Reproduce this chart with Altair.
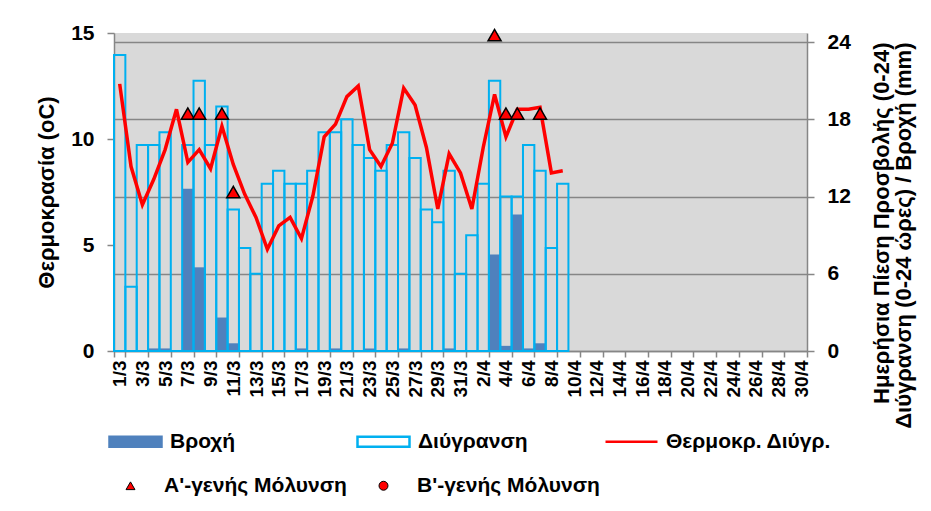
import altair as alt
import pandas as pd

# ---- categories: every day of March and April ----
all_days = [f"{d}/3" for d in range(1, 32)] + [f"{d}/4" for d in range(1, 31)]
tick_days = all_days[::2]

# ---- observed days (1/3 .. 9/4) ----
obs_days = all_days[:40]

# Διύγρανση (hours, right axis)
wetness = [23, 5, 16, 16, 17, 0, 16, 21, 16, 19,
           11, 8, 6, 13, 14, 13, 13, 14, 17, 17,
           18, 16, 15, 14, 16, 17, 15, 11, 10, 14,
           6, 9, 13, 21, 12, 12, 16, 14, 8, 13]

# Βροχή (mm, right axis)
rain = [0, 0, 0, 0.2, 0.2, 0, 12.6, 6.5, 0, 2.6,
        0.6, 0, 0, 0, 0, 0, 0.2, 0, 0, 0.2,
        0, 0, 0.2, 0, 0, 0.2, 0, 0, 0, 0.2,
        0, 0, 0, 7.5, 0.4, 10.6, 0.2, 0.6, 0, 0]

# Θερμοκρ. Διύγρ. (°C, left axis)
temp = [12.6, 8.7, 6.9, 8.1, 9.5, 11.4, 8.9, 9.5, 8.6, 10.6,
        8.8, 7.4, 6.3, 4.8, 5.9, 6.3, 5.3, 7.3, 10.1, 10.7,
        12.0, 12.5, 9.5, 8.7, 9.8, 12.4, 11.6, 9.6, 6.7, 9.3,
        8.4, 6.7, 9.6, 12.1, 10.1, 11.4, 11.4, 11.5, 8.4, 8.5]

# Α'-γενής Μόλυνση markers
inf_days = ["7/3", "8/3", "10/3", "11/3", "3/4", "4/4", "5/4", "7/4"]
inf_vals = [11.2, 11.2, 11.2, 7.5, 14.9, 11.2, 11.2, 11.2]

legend1_items = ["Βροχή", "Διύγρανση", "Θερμοκρ. Διύγρ."]
legend2_items = ["Α'-γενής Μόλυνση", "Β'-γενής Μόλυνση"]

df = pd.DataFrame({"day": obs_days, "wet": wetness, "rain": rain, "temp": temp})
inf_df = pd.DataFrame({"day": inf_days, "val": inf_vals})
leg1_df = pd.DataFrame({"leg1": legend1_items})
leg2_df = pd.DataFrame({"leg2": legend2_items})

FONT = "Liberation Sans"
GRAY = "#868686"
BG = "#D9D9D9"

xscale = alt.Scale(domain=all_days, paddingInner=0, paddingOuter=0)
xaxis = alt.Axis(values=tick_days, labelAngle=270, tickBand="extent",
                 labelFontSize=19, labelFontWeight="bold", labelColor="#000",
                 labelPadding=3, tickSize=6, tickColor=GRAY, tickWidth=1.5,
                 domainColor=GRAY, domainWidth=1.5, grid=False, title=None,
                 labelFont=FONT)
X = alt.X("day:O", scale=xscale, axis=xaxis, sort=all_days)

right_scale = alt.Scale(domain=[0, 24.7], nice=False, zero=True)
right_axis = alt.Axis(orient="right", values=[0, 6, 12, 18, 24],
                      grid=True, gridColor=GRAY, gridWidth=1.5,
                      labelFontSize=21, labelFontWeight="bold", labelColor="#000",
                      labelFont=FONT, labelPadding=13, tickSize=7,
                      tickColor=GRAY, tickWidth=1.5, domainColor=GRAY, domainWidth=1.5,
                      title=["Ημερήσια Πίεση Προσβολής (0-24)",
                             "Διύγρανση (0-24 ώρες)  / Βροχή (mm)"],
                      titleAngle=270, titleFontSize=22, titleFontWeight="bold",
                      titleColor="#000", titleFont=FONT, titleLineHeight=22,
                      titleAlign="right", titleBaseline="middle",
                      titleX=74, titleY=9)

rain_bars = alt.Chart(df).mark_bar(color="#4F81BD").encode(
    x=X, y=alt.Y("rain:Q", scale=right_scale, axis=right_axis))
wet_bars = alt.Chart(df).mark_bar(fill="transparent", stroke="#00B0F0",
                                  strokeWidth=2).encode(
    x=X, y=alt.Y("wet:Q", scale=right_scale, axis=right_axis))
bars = alt.layer(rain_bars, wet_bars)

left_scale = alt.Scale(domain=[0, 15], nice=False)
left_axis = alt.Axis(orient="left", values=[0, 5, 10, 15], grid=False,
                     labelFontSize=21, labelFontWeight="bold", labelColor="#000",
                     labelFont=FONT, labelPadding=13, tickSize=7,
                     tickColor=GRAY, tickWidth=1.5, domainColor=GRAY, domainWidth=1.5,
                     title="Θερμοκρασία (oC)", titleFontSize=22,
                     titleFontWeight="bold", titleColor="#000", titleFont=FONT,
                     titlePadding=12)

temp_line = alt.Chart(df).mark_line(color="#FF0000", strokeWidth=3.5).encode(
    x=X, y=alt.Y("temp:Q", scale=left_scale, axis=left_axis))
tri = alt.Chart(inf_df).mark_point(shape="triangle-up", filled=True,
                                   fill="#FF0000", stroke="#000",
                                   strokeWidth=1.5, size=170, opacity=1).encode(
    x=X, y=alt.Y("val:Q", scale=left_scale, axis=left_axis))
temps = alt.layer(temp_line, tri)

SW = "M-1,-0.19H1V0.19H-1Z"
leg1_legend = alt.Legend(orient="none", legendX=-6, legendY=381,
                         columns=3, gridAlign="all", title=None,
                         symbolSize=2704, symbolOpacity=1,
                         symbolStrokeWidth=2.5, labelOffset=7,
                         columnPadding=17, labelFontSize=21,
                         labelFontWeight="bold", labelFont=FONT,
                         labelColor="#000", labelLimit=400)
leg1 = alt.Chart(leg1_df).mark_point(opacity=0).encode(
    shape=alt.Shape("leg1:N", scale=alt.Scale(domain=legend1_items,
                                               range=[SW, SW, "M-1,0H1"]),
                    legend=leg1_legend),
    fill=alt.Fill("leg1:N", scale=alt.Scale(domain=legend1_items,
                                             range=["#4F81BD", "transparent", "transparent"]),
                  legend=leg1_legend),
    stroke=alt.Stroke("leg1:N", scale=alt.Scale(domain=legend1_items,
                                                 range=["#4F81BD", "#00B0F0", "#FF0000"]),
                      legend=leg1_legend),
)

leg2_legend = alt.Legend(orient="none", legendX=6, legendY=442, columns=2,
                         title=None, symbolSize=80, symbolOpacity=1,
                         symbolStrokeWidth=1, labelOffset=23, columnPadding=26,
                         labelFontSize=21, labelFontWeight="bold", labelFont=FONT,
                         labelColor="#000", labelLimit=400)
leg2 = alt.Chart(leg2_df).mark_point(opacity=0).encode(
    shape=alt.Shape("leg2:N", scale=alt.Scale(domain=legend2_items,
                                               range=["triangle-up", "circle"]),
                    legend=leg2_legend),
    fill=alt.Fill("leg2:N", scale=alt.Scale(domain=legend2_items,
                                             range=["#FF0000", "#FF0000"]),
                  legend=leg2_legend),
    stroke=alt.Stroke("leg2:N", scale=alt.Scale(domain=legend2_items,
                                                 range=["#000000", "#000000"]),
                      legend=leg2_legend),
)

chart = alt.layer(bars, temps, leg1, leg2).resolve_scale(
    y="independent", shape="independent", fill="independent", stroke="independent"
).properties(
    width=693, height=318,
    autosize=alt.AutoSizeParams(type="none"),
    padding={"left": 106, "top": 25, "right": 116, "bottom": 152},
    background="white",
    view=alt.ViewBackground(fill=BG, strokeWidth=0),
).configure_view(fill=BG, strokeWidth=0)

chart.save("out.html", embed_options={"renderer": "svg", "actions": False})
